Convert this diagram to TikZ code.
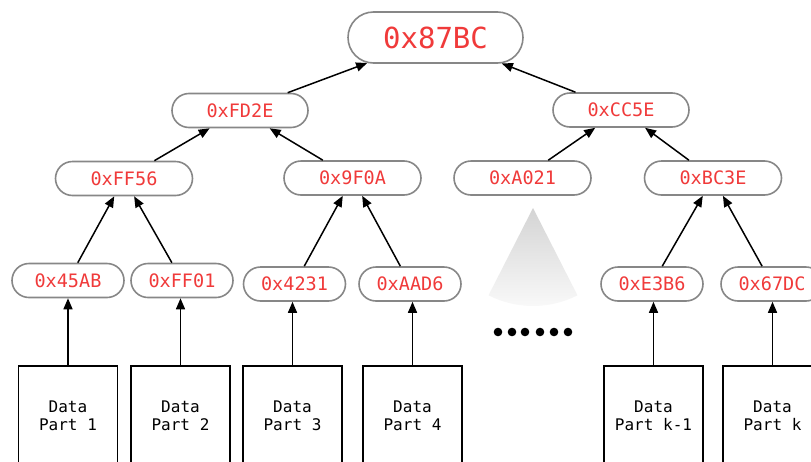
\documentclass[tikz,border=0pt]{standalone}
\usepackage{fontspec}
\setmonofont{DejaVu Sans Mono}
\usetikzlibrary{shapes.misc, arrows.meta}

\definecolor{hashred}{RGB}{240,58,58}
\definecolor{rimgray}{RGB}{135,135,135}

\tikzset{
    hash/.style={rounded rectangle, draw=rimgray, line width=1.6pt, fill=white,
        text=hashred, font=\ttfamily\fontsize{18.5}{22}\selectfont,
        minimum width=137pt, minimum height=34pt, inner sep=0pt},
    leaf/.style={hash, minimum width=102pt},
    part/.style={draw, line width=1.6pt, align=center, inner sep=0pt,
        minimum width=99pt, minimum height=100pt,
        font=\ttfamily\fontsize{16}{18}\selectfont},
    up/.style={-{Triangle[length=11pt,width=9pt]}, line width=1.5pt},
}

\begin{document}
\begin{tikzpicture}[x=1pt, y=-1pt]
    \useasboundingbox (0,0) rectangle (811,461);
    \clip (0,0) rectangle (811,461);

    % Draw the root hash
    \node[hash, minimum width=175pt, minimum height=51pt,
          font=\ttfamily\fontsize{29}{34}\selectfont] (root) at (435.5,37.5) {0x87BC};

    % Draw the inner hashes
    \node[hash, minimum width=136pt] (h1) at (240,110.5) {0xFD2E};
    \node[hash, minimum width=136pt] (h2) at (621,110) {0xCC5E};

    \node[hash] (g1) at (124,178.5) {0xFF56};
    \node[hash] (g2) at (352.5,178) {0x9F0A};
    \node[hash] (g3) at (522.5,178) {0xA021};
    \node[hash] (g4) at (713,178) {0xBC3E};

    % Draw the leaf hashes
    \node[leaf, minimum width=112pt] (l1) at (68,280.5) {0x45AB};
    \node[leaf] (l2) at (182,280.5) {0xFF01};
    \node[leaf] (l3) at (294.5,284) {0x4231};
    \node[leaf] (l4) at (410,284) {0xAAD6};
    \node[leaf] (l5) at (652,284) {0xE3B6};
    \node[leaf] (l6) at (772,284) {0x67DC};

    % Draw the data parts
    \node[part] (d1) at (68,416) {Data\\Part 1};
    \node[part] (d2) at (180.5,416) {Data\\Part 2};
    \node[part] (d3) at (292.5,416) {Data\\Part 3};
    \node[part] (d4) at (412.5,416) {Data\\Part 4};
    \node[part] (d5) at (653.5,416) {Data\\Part k-1};
    \node[part] (d6) at (772.5,416) {Data\\Part k};

    % Arrows from data to leaves
    \draw[up] (d1.north) -- (d1.north |- l1.south);
    \draw[up] (d2.north) -- (d2.north |- l2.south);
    \draw[up] (d3.north) -- (d3.north |- l3.south);
    \draw[up] (d4.north) -- (d4.north |- l4.south);
    \draw[up] (d5.north) -- (d5.north |- l5.south);
    \draw[up] (d6.north) -- (d6.north |- l6.south);

    % Arrows up the tree
    \draw[up] (l1) -- (g1);
    \draw[up] (l2) -- (g1);
    \draw[up] (l3) -- (g2);
    \draw[up] (l4) -- (g2);
    \draw[up] (l5) -- (g4);
    \draw[up] (l6) -- (g4);
    \draw[up] (g1) -- (h1);
    \draw[up] (g2) -- (h1);
    \draw[up] (g3) -- (h2);
    \draw[up] (g4) -- (h2);
    \draw[up] (h1) -- (root);
    \draw[up] (h2) -- (root);

    % Draw the hidden subtree
    \shade[top color=black!17, bottom color=black!2]
        (533,208) -- ++(117:98) arc[start angle=117, end angle=63, radius=98] -- cycle;

    % Draw the dots
    \fill (498,332) circle (4.3);
    \fill (512,332) circle (4.3);
    \fill (525,332) circle (4.3);
    \fill (540,332) circle (4.3);
    \fill (554,332) circle (4.3);
    \fill (568,332) circle (4.3);
\end{tikzpicture}
\end{document}
